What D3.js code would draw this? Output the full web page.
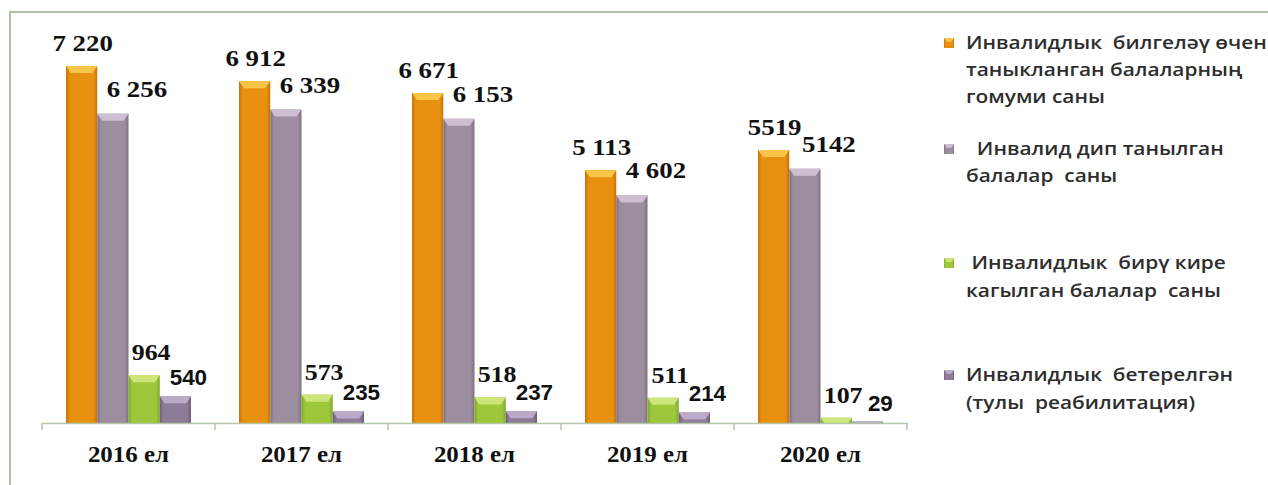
<!DOCTYPE html>
<html>
<head>
<meta charset="utf-8">
<script src="https://cdn.jsdelivr.net/npm/d3@7"></script>
<style>
  html, body { margin: 0; padding: 0; background: #ffffff; }
  svg { display: block; }
</style>
</head>
<body>
<svg id="chart" width="1268" height="485"></svg>
<script>
// ---- data ----
const years = ["2016 ел", "2017 ел", "2018 ел", "2019 ел", "2020 ел"];
const seriesKeys = ["s1", "s2", "s3", "s4"];
const s1Values = [7220, 6912, 6671, 5113, 5519];
const s2Values = [6256, 6339, 6153, 4602, 5142];
const s3Values = [964, 573, 518, 511, 107];
const s4Values = [540, 235, 237, 214, 29];
const s1Labels = ["7 220", "6 912", "6 671", "5 113", "5519"];
const s2Labels = ["6 256", "6 339", "6 153", "4 602", "5142"];
const s3Labels = ["964", "573", "518", "511", "107"];
const s4Labels = ["540", "235", "237", "214", "29"];
const legendLines = [
  ["Инвалидлык  билгеләү өчен", "таныкланган балаларның", "гомуми саны"],
  ["  Инвалид дип танылган", "балалар  саны"],
  [" Инвалидлык  бирү кире", "кагылган балалар  саны"],
  ["Инвалидлык  бетерелгән", "(тулы  реабилитация)"]
];

// ---- styling ----
const serif = "'Liberation Serif', 'Times New Roman', serif";
const sans = "'Liberation Sans', Arial, sans-serif";
const seriesStyle = {
  s1: { base: "#E8900F", dark: "#C8740A", top: "#F8C548", labelFont: serif, size: 24, sx: 1.12, dx: 1, dy: 15 },
  s2: { base: "#9C8E9F", dark: "#7E7082", top: "#CDBFD1", labelFont: serif, size: 24, sx: 1.12, dx: 24, dy: 17 },
  s3: { base: "#9DC83B", dark: "#7FA82A", top: "#CDE67A", labelFont: serif, size: 24, sx: 1.08, dx: 7, dy: 15 },
  s4: { base: "#8C7C98", dark: "#6E5F7C", top: "#BBAAC8", labelFont: sans, size: 22, sx: 1.02, dx: 13, dy: 11 }
};
const valuesBySeries = { s1: s1Values, s2: s2Values, s3: s3Values, s4: s4Values };
const labelsBySeries = { s1: s1Labels, s2: s2Labels, s3: s3Labels, s4: s4Labels };

const svg = d3.select("#chart");
const defs = svg.append("defs");

seriesKeys.forEach(k => {
  const st = seriesStyle[k];
  const g = defs.append("linearGradient").attr("id", "grad-" + k)
    .attr("x1", "0%").attr("x2", "100%").attr("y1", "0%").attr("y2", "0%");
  g.append("stop").attr("offset", "0%").attr("stop-color", st.dark);
  g.append("stop").attr("offset", "12%").attr("stop-color", st.base);
  g.append("stop").attr("offset", "88%").attr("stop-color", st.base);
  g.append("stop").attr("offset", "100%").attr("stop-color", st.dark);
});

// frame
svg.append("path")
  .attr("d", "M10,490 V12 H1270")
  .attr("fill", "none")
  .attr("stroke", "#AFC3A3")
  .attr("stroke-width", 2);

// scales
const baseY = 423;
const x0 = d3.scaleBand().domain(years).range([42, 907]).paddingInner(0).paddingOuter(0);
const x1 = d3.scaleBand().domain(seriesKeys).range([24, x0.bandwidth() - 24]).padding(0);
const y = d3.scaleLinear().domain([0, 8000]).range([baseY, 27.4]);

// bars
const groups = svg.append("g").selectAll("g")
  .data(years).join("g")
  .attr("transform", d => `translate(${x0(d)},0)`);

groups.each(function(yr, i) {
  const g = d3.select(this);
  seriesKeys.forEach(k => {
    const st = seriesStyle[k];
    const v = valuesBySeries[k][i];
    const bx = x1(k), bw = x1.bandwidth();
    const top = y(v), h = baseY - top;
    g.append("rect")
      .attr("x", bx).attr("y", top)
      .attr("width", bw).attr("height", h)
      .attr("fill", `url(#grad-${k})`);
    const bh = Math.min(7, h);
    const inset = Math.min(5, bh * 0.7);
    g.append("path")
      .attr("d", `M${bx},${top} H${bx + bw} L${bx + bw - inset},${top + bh} H${bx + inset} Z`)
      .attr("fill", st.top);
  });
});

// axis line
const axisG = svg.append("g").attr("transform", `translate(0,${baseY})`)
  .call(d3.axisBottom(x0).tickSize(0).tickFormat(""));
axisG.select(".domain").attr("stroke", "#B3C6A6").attr("stroke-width", 1.5);
// boundary ticks
const bounds = years.map(d => x0(d)).concat([x0(years[years.length - 1]) + x0.bandwidth()]);
svg.append("g").selectAll("line").data(bounds).join("line")
  .attr("x1", d => d).attr("x2", d => d)
  .attr("y1", baseY).attr("y2", baseY + 7)
  .attr("stroke", "#B3C6A6").attr("stroke-width", 1.5);

// category labels
svg.append("g").selectAll("text").data(years).join("text")
  .attr("transform", d => `translate(${x0(d) + x0.bandwidth() / 2},462) scale(1.04,1)`)
  .attr("text-anchor", "middle")
  .attr("font-family", serif)
  .attr("font-weight", "bold")
  .attr("font-size", 24)
  .attr("fill", "#111")
  .text(d => d);

// value labels
groups.each(function(yr, i) {
  const g = d3.select(this);
  seriesKeys.forEach(k => {
    const st = seriesStyle[k];
    const v = valuesBySeries[k][i];
    const tx = x1(k) + x1.bandwidth() / 2 + st.dx;
    const ty = y(v) - st.dy;
    g.append("text")
      .attr("transform", `translate(${tx},${ty}) scale(${st.sx},1)`)
      .attr("text-anchor", "middle")
      .attr("font-family", st.labelFont)
      .attr("font-weight", "bold")
      .attr("font-size", st.size)
      .attr("fill", "#111")
      .text(labelsBySeries[k][i]);
  });
});

// legend
const legendBaselines = [[49, 76, 103], [155, 182], [269, 297], [381, 409]];
const legend = svg.append("g");
seriesKeys.forEach((k, i) => {
  const st = seriesStyle[k];
  const b0 = legendBaselines[i][0];
  legend.append("rect")
    .attr("x", 944).attr("y", b0 - 11)
    .attr("width", 10).attr("height", 10)
    .attr("fill", `url(#grad-${k})`);
  legend.append("path")
    .attr("d", `M944,${b0 - 11} H954 L951,${b0 - 7} H947 Z`)
    .attr("fill", st.top);
  legendLines[i].forEach((line, j) => {
    legend.append("text")
      .attr("transform", `translate(966,${legendBaselines[i][j]}) scale(1.13,1)`)
      .attr("font-family", "'Open Sans', 'Noto Sans', sans-serif")
      .attr("font-weight", 600)
      .attr("font-size", 18.5)
      .attr("fill", "#2e2e2e")
      .style("white-space", "pre")
      .text(line);
  });
});
</script>
</body>
</html>
